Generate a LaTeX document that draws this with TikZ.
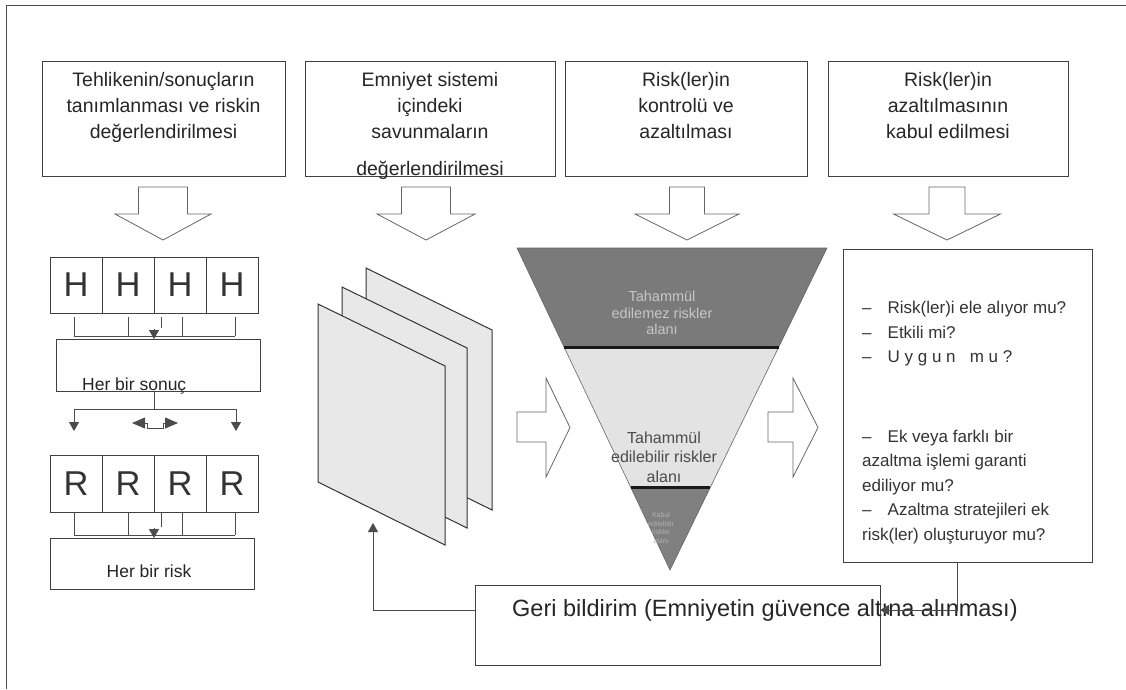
\documentclass[tikz,border=0pt]{standalone}
\usepackage{fontspec}
\setmainfont{Liberation Sans}
\usetikzlibrary{arrows.meta,calc}
\newcommand\qdash{–\hspace{16pt}}
\begin{document}
\begin{tikzpicture}[x=1pt,y=-1pt,
  frame/.style={draw=black!70, line width=0.8pt},
  tbox/.style={draw=black!75, line width=0.9pt, fill=white, inner sep=0, outer sep=0, anchor=north west},
  ttext/.style={font=\fontsize{19.5}{26}\selectfont, text=black!85, align=center, anchor=north, inner sep=0},
  blk/.style={draw=black!60, line width=0.8pt, fill=white, line join=miter},
  conn/.style={draw=black!70, line width=0.8pt},
  tip/.style={-{Triangle[width=10pt,length=9pt]}},
  cell/.style={draw=black!75, line width=0.9pt, fill=white, minimum width=52pt, inner sep=0, outer sep=0, font=\fontsize{34.5}{34}\selectfont, text=black!80},
  sheet/.style={draw=black!80, line width=1pt, fill=black!9},
  band/.style={line width=3pt, draw=black!90},
]
\useasboundingbox (0,0) rectangle (1126,689);
\draw[frame] (6,689) -- (6,5) -- (1126,5);

% step boxes
\node[tbox, minimum width=243pt, minimum height=115pt] (b1) at (42,61) {};
\node[tbox, minimum width=250pt, minimum height=115pt] (b2) at (305,61) {};
\node[tbox, minimum width=242pt, minimum height=115pt] (b3) at (565,61) {};
\node[tbox, minimum width=240pt, minimum height=115pt] (b4) at (828,61) {};
\node[ttext] (b1t) at (163.5,72) {Tehlikenin/sonuçların\\tanımlanması ve riskin\\değerlendirilmesi};
\node[ttext] (b2t) at (430,72) {Emniyet sistemi\\içindeki\\savunmaların\\[11pt]değerlendirilmesi};
\node[ttext] (b3t) at (686,72) {Risk(ler)in\\kontrolü ve\\azaltılması};
\node[ttext] (b4t) at (948,72) {Risk(ler)in\\azaltılmasının\\kabul edilmesi};

% hollow block arrows pointing down
\foreach \cx/\sw/\hw in {163/24.5/48, 426/24.5/49, 687/17.5/52, 947/18/53.5}{
  \draw[blk] (\cx-\sw,187) -- (\cx+\sw,187) -- (\cx+\sw,214) -- (\cx+\hw,214)
    -- (\cx,240) -- (\cx-\hw,214) -- (\cx-\sw,214) -- cycle;
}
% hollow block arrows pointing right
\foreach \x/\n/\t in {517/546/570, 768/793/818}{
  \draw[blk] (\x,412) -- (\n,412) -- (\n,378) -- (\t,427.5) -- (\n,477) -- (\n,442) -- (\x,442) -- cycle;
}

% hazards row
\foreach \i/\cx in {0/76,1/128,2/180,3/232}{
  \node[cell, minimum height=56pt] (h\i) at (\cx,285) {H};
}
\foreach \x in {74,128,182,235}{ \draw[conn] (\x,317) -- (\x,336); }
\draw[conn] (74,336) -- (235,336);
\draw[conn] (161,317) -- (161,328);
\node[tbox, minimum width=204pt, minimum height=52pt] (son) at (56,339) {};
\draw[conn, tip] (154,329) -- (154,339);
\node[anchor=base west, inner sep=0, font=\fontsize{17.5}{20}\selectfont, text=black!85] (sont) at (82,390) {Her bir sonuç};
\draw[conn] (154,391) -- (154,409);
\draw[conn] (74,409) -- (236,409);
\draw[conn, tip] (74,409) -- (74,431);
\draw[conn, tip] (236,409) -- (236,431);
% two-way exchange between consequences
\draw[conn] (147,423) -- (147,428) -- (163,428) -- (163,423);
\draw[conn, -{Triangle[width=11pt,length=13pt]}] (147,423) -- (132,423);
\draw[conn, -{Triangle[width=11pt,length=13pt]}] (163,423) -- (178,423);

% risks row
\foreach \i/\cx in {0/76,1/128,2/180,3/232}{
  \node[cell, minimum height=57pt] (r\i) at (\cx,483.5) {R};
}
\foreach \x in {74,128,182,235}{ \draw[conn] (\x,512) -- (\x,535); }
\draw[conn] (74,535) -- (235,535);
\draw[conn] (161,512) -- (161,527);
\node[tbox, minimum width=204pt, minimum height=51pt] (risk) at (50,538) {};
\draw[conn, tip] (154,528) -- (154,538);
\node[inner sep=0, font=\fontsize{17.5}{20}\selectfont, text=black!85] (riskt) at (149,571) {Her bir risk};

% stacked defence sheets
\draw[sheet] (366,268) -- (492,330) -- (492,510) -- (366,448) -- cycle;
\draw[sheet] (342,287) -- (467,348) -- (467,528) -- (342,466) -- cycle;
\draw[sheet] (318,304) -- (445,366) -- (445,545) -- (318,482) -- cycle;

% risk triangle
\coordinate (tl) at (517,248);
\coordinate (tr) at (827,248);
\coordinate (tt) at (670,570);
\coordinate (l1) at ($(tl)!0.3075!(tt)$);
\coordinate (r1) at ($(tr)!0.3075!(tt)$);
\coordinate (l2) at ($(tl)!0.745!(tt)$);
\coordinate (r2) at ($(tr)!0.745!(tt)$);
\fill[black!52] (tl) -- (tr) -- (r1) -- (l1) -- cycle;
\fill[black!11] (l1) -- (r1) -- (r2) -- (l2) -- cycle;
\fill[black!50] (l2) -- (r2) -- (tt) -- cycle;
\draw[black!60, line width=0.6pt] (tl) -- (tr) -- (tt) -- cycle;
\draw[band] (l1) -- (r1);
\draw[band] (l2) -- (r2);
\node[align=center, inner sep=0, font=\fontsize{14.5}{16.5}\selectfont, text=black!22] (zone1) at (662,313) {Tahammül\\edilemez riskler\\alanı};
\node[align=center, inner sep=0, font=\fontsize{16}{19.5}\selectfont, text=black!70] (zone2) at (664,457) {Tahammül\\edilebilir riskler\\alanı};
\node[align=center, inner sep=0, font=\fontsize{7}{8.5}\selectfont, text=black!30] (zone3) at (661,528) {Kabul\\edilebilir\\riskler\\alanı};

% acceptance questions
\node[tbox, minimum width=249pt, minimum height=313pt] (rb) at (843,249) {};
\node[anchor=north west, inner sep=0, align=left, font=\fontsize{17}{24.5}\selectfont, text=black!80] (rbt) at (862,301)
  {\qdash Risk(ler)i ele alıyor mu?\\%
\qdash Etkili mi?\\%
\qdash U y g u n\ \ \ m u ?\\[55pt]%
\qdash Ek veya farklı bir\\%
azaltma işlemi garanti\\%
ediliyor mu?\\%
\qdash Azaltma stratejileri ek\\%
risk(ler) oluşturuyor mu?};

% feedback
\node[tbox, minimum width=405pt, minimum height=80pt] (fb) at (475,585) {};
\node[anchor=base west, inner sep=0, font=\fontsize{23.5}{26}\selectfont, text=black!85] (fbt) at (512,616) {Geri bildirim (Emniyetin güvence altına alınması)};
\coordinate (fy) at (0,610);
\coordinate (rc) at (957,0);
\coordinate (fl) at (373,523);
\draw[conn, tip] (rb.south -| rc) |- (fb.east |- fy);
\draw[conn, tip] (fb.west |- fy) -| (fl);
\end{tikzpicture}
\end{document}
